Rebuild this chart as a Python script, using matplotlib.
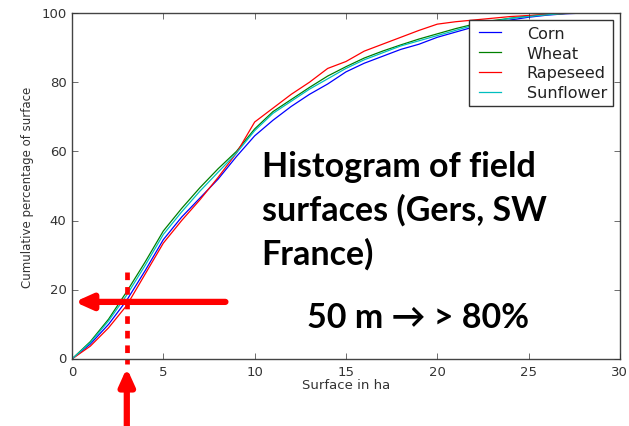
import matplotlib
matplotlib.use("Agg")
import matplotlib.pyplot as plt
import numpy as np

# cumulative share of cropped surface vs. field size (ha), sampled every hectare
surface_ha = list(range(0, 31))
corn = [0, 4.3, 10, 17, 25.5, 34.5, 41, 46.5, 52, 58.5, 64.5, 69, 73, 76.5, 79.5, 83,
        85.5, 87.5, 89.5, 91, 93, 94.5, 96, 97, 98, 98.8, 99.4, 99.8, 100, 100, 100]
wheat = [0, 5, 11.5, 19.5, 28, 37, 43.5, 49.5, 55, 60, 66.5, 71.5, 75, 78.5, 81.8, 84.5,
         87, 89, 90.8, 92.5, 94, 95.5, 96.8, 97.8, 98.5, 99.2, 99.6, 99.9, 100, 100, 100]
rapeseed = [0, 3.7, 9, 15.5, 24.5, 33.5, 40, 46, 52.5, 59.5, 68.5, 72.5, 76.5, 80, 84, 86,
            89, 91, 93, 95, 96.8, 97.5, 98, 98.5, 99, 99.3, 99.6, 99.9, 100, 100, 100]
sunflower = [0, 4.7, 11, 18.5, 27, 36, 42.5, 48.5, 54, 59.5, 66, 71, 74.5, 78, 81, 84,
             86.5, 88.5, 90.5, 92, 93.5, 95, 96.5, 97.5, 98.5, 99, 99.5, 99.9, 100, 100, 100]

series = [("Corn", corn, "b"), ("Wheat", wheat, "g"),
          ("Rapeseed", rapeseed, "r"), ("Sunflower", sunflower, "c")]

title_lines = ["Histogram of field", "surfaces (Gers, SW", "France)"]
claim = "50 m \u2192 > 80%"
read_x, read_y = 3, 16.5   # 3 ha field size -> ~16.5 % of surface

plt.style.use("classic")
fig = plt.figure(figsize=(6.29, 4.27), dpi=100, facecolor="white")
ax = fig.add_axes([0.1145, 0.157, 0.871, 0.81])

for name, vals, col in series:
    ax.plot(surface_ha, vals, color=col, lw=0.9, label=name)

ax.set_xlim(0, 30)
ax.set_ylim(0, 100)
ax.set_xticks(np.arange(0, 31, 5))
ax.set_yticks(np.arange(0, 101, 20))
ax.tick_params(labelsize=9.5, colors="#333333", length=4, direction="in",
               top=True, right=True)
for s in ax.spines.values():
    s.set_color("#444444")
ax.set_xlabel("Surface in ha", fontsize=9.5, color="#333333", labelpad=0)
ax.set_ylabel("Cumulative percentage of surface", fontsize=8.5, color="#333333")

leg = ax.legend(loc="upper right", fontsize=11.5, handlelength=2.0, handletextpad=1.3,
                borderaxespad=0.45, labelspacing=0.3, borderpad=0.35, fancybox=False)
leg.get_frame().set_edgecolor("#333333")
for t in leg.get_texts():
    t.set_color("#222222")

bold = dict(family=["Lato", "DejaVu Sans"], fontweight="bold", fontsize=24.5, color="black")
for i, line in enumerate(title_lines):
    ax.text(10.38, 52.9 - 12.7 * i, line, va="baseline", ha="left", **bold)
ax.text(12.85, 9.2, claim, va="baseline", ha="left", **bold)

# red reading guides: horizontal arrow to the y axis, dashed vertical at 3 ha
head = "-|>,head_length=1.0,head_width=0.45"
ax.annotate("", xy=(0.15, read_y), xytext=(8.4, read_y), annotation_clip=False,
            arrowprops=dict(arrowstyle=head, color="red", lw=4.5, mutation_scale=10,
                            shrinkA=0, shrinkB=0))
ax.plot([read_x, read_x], [25, -1.5], color="red", lw=3.4, ls=(0, (5.5, 5)),
        clip_on=False, solid_capstyle="butt", dash_capstyle="butt")
ax.annotate("", xy=(read_x, -2.6), xytext=(read_x, -19.5), annotation_clip=False,
            arrowprops=dict(arrowstyle=head, color="red", lw=4.5, mutation_scale=10,
                            shrinkA=0, shrinkB=0))

fig.savefig("out.png", dpi=100, facecolor="white")
